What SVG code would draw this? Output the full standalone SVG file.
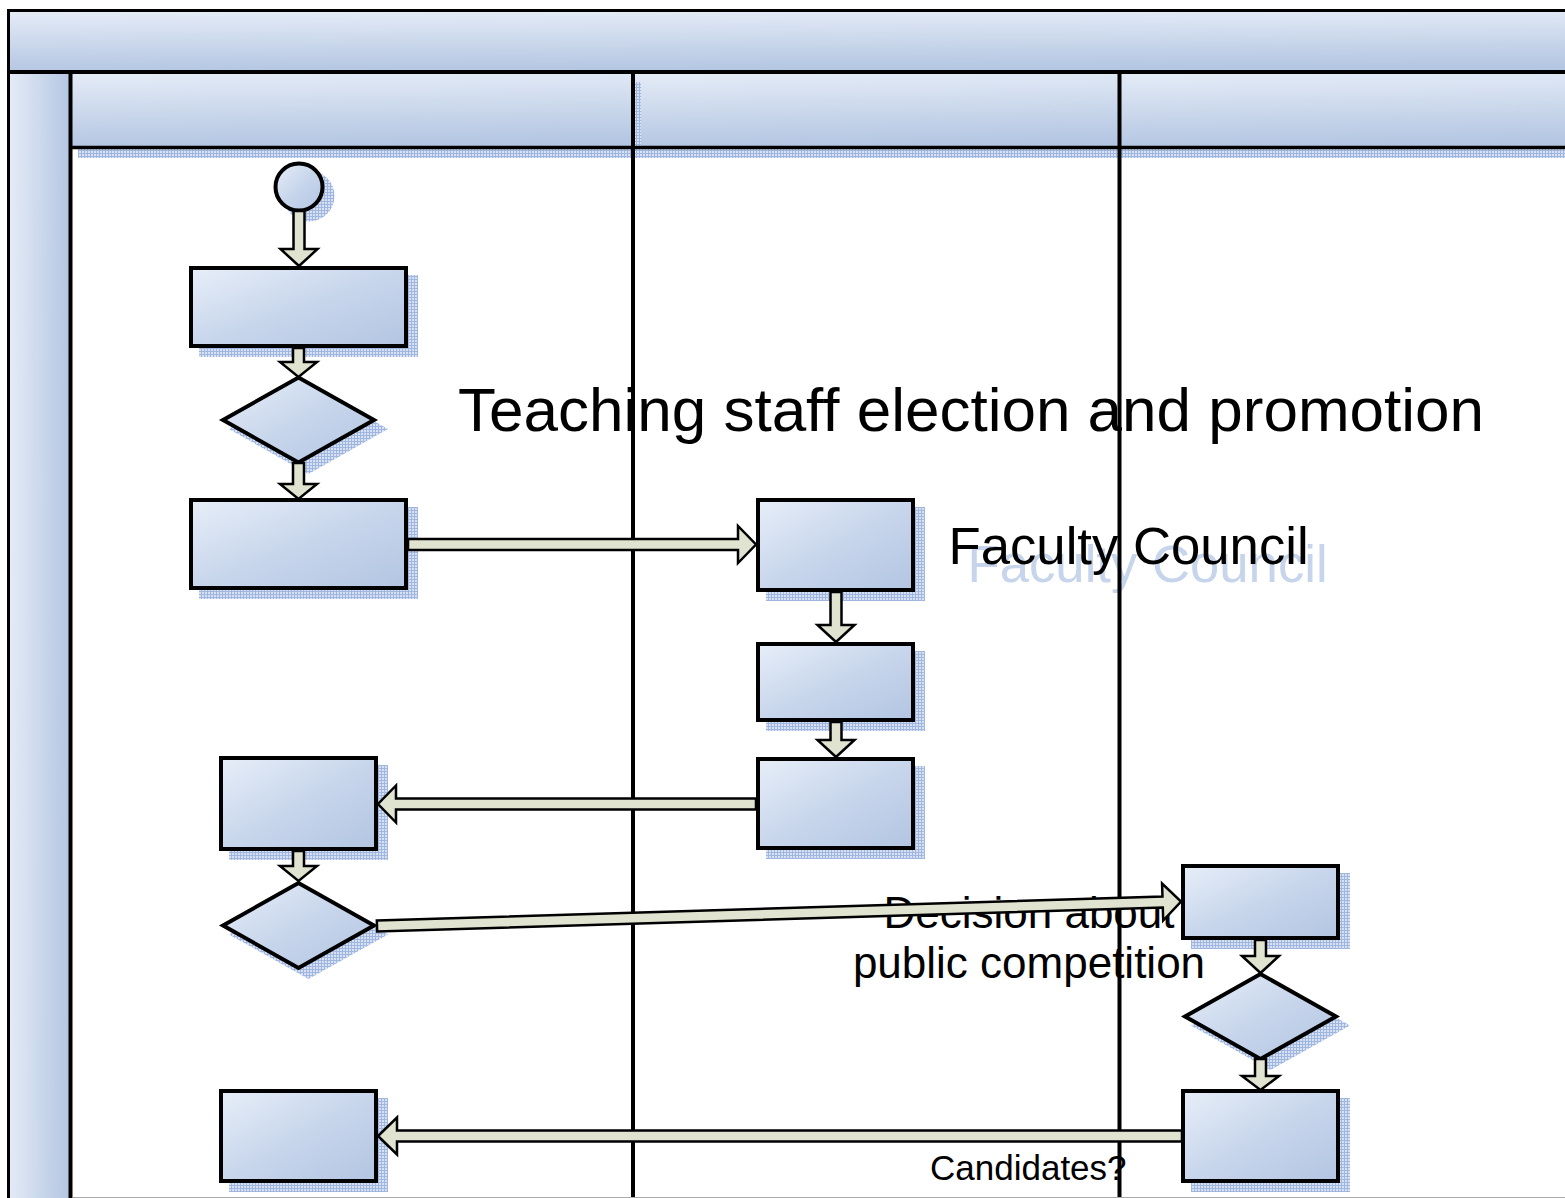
<svg xmlns="http://www.w3.org/2000/svg" width="1565" height="1198" viewBox="0 0 1565 1198">
<style>
.node{fill:url(#gNode);stroke:#000;stroke-width:4;stroke-linejoin:miter}
.sh{fill:url(#dots);stroke:none}
.arrow{fill:#dfe3cf;stroke:#000;stroke-width:2.5;stroke-linejoin:miter}
.line{stroke:#000;fill:none}
.t{font-family:"Liberation Sans",Arial,sans-serif;fill:#000}
</style>
<defs>
<linearGradient id="gNode" x1="0" y1="0" x2="1" y2="1">
<stop offset="0" stop-color="#e7eef8"/>
<stop offset="0.5" stop-color="#c8d6ec"/>
<stop offset="1" stop-color="#b3c5e2"/>
</linearGradient>
<linearGradient id="gHead" x1="0" y1="0" x2="0.1" y2="1">
<stop offset="0" stop-color="#e5ecf7"/>
<stop offset="1" stop-color="#b4c6e2"/>
</linearGradient>
<linearGradient id="gBand" x1="0" y1="0" x2="1" y2="0.03">
<stop offset="0" stop-color="#e5ecf7"/>
<stop offset="1" stop-color="#b4c6e2"/>
</linearGradient>
<pattern id="dots" width="3" height="3" patternUnits="userSpaceOnUse">
<rect width="3" height="3" fill="#d7e1f3"/>
<rect width="3" height="1" fill="#9fb6df"/>
<rect width="1" height="3" fill="#9fb6df"/>
</pattern>
</defs>
<rect x="0" y="0" width="1565" height="1198" fill="#fff"/>
<g id="pool">
<rect x="8.5" y="10.5" width="1570" height="61.5" fill="url(#gHead)" stroke="#000" stroke-width="3"/>
<rect x="8.5" y="72" width="62" height="1140" fill="url(#gBand)" stroke="#000" stroke-width="3"/>
<rect class="sh" x="641" y="82" width="940" height="76"/>
<rect x="1120" y="72" width="460" height="76" fill="url(#gHead)"/>
<rect x="633" y="72" width="487" height="76" fill="url(#gHead)"/>
<rect class="sh" x="78" y="82" width="563" height="76"/>
<rect x="70" y="72" width="563" height="76" fill="url(#gHead)"/>
</g>
<g id="labels">
<text class="t" x="458" y="431" font-size="62">Teaching staff election and promotion</text>
<text class="t" x="967.5" y="582" font-size="52.7" style="fill:#c6d4ec">Faculty Council</text>
<text class="t" x="948.5" y="564" font-size="52.7">Faculty Council</text>
<text class="t" x="1029" y="928" font-size="44" text-anchor="middle">Decision about</text>
<text class="t" x="1029" y="978" font-size="44" text-anchor="middle">public competition</text>
<text class="t" x="930" y="1180" font-size="35">Candidates?</text>
</g>
<g id="lanes">
<line class="line" x1="8.5" y1="72" x2="1565" y2="72" stroke-width="4"/>
<line class="line" x1="70" y1="147.5" x2="1565" y2="147.5" stroke-width="3.7"/>
<line class="line" x1="70.5" y1="72" x2="70.5" y2="1198" stroke-width="4"/>
<line class="line" x1="633" y1="72" x2="633" y2="1198" stroke-width="4"/>
<line class="line" x1="1119.5" y1="72" x2="1119.5" y2="1198" stroke-width="4"/>
<line x1="72.5" y1="1197.5" x2="1565" y2="1197.5" stroke="#a8a8a8" stroke-width="1"/>
</g>
<g id="start">
<circle class="sh" cx="309" cy="196" r="25.5"/>
<circle class="node" cx="299" cy="187" r="23.5"/>
</g>
<g id="n1"><rect class="sh" x="199" y="275" width="219" height="82"/><rect class="node" x="191" y="268" width="215" height="78"/></g>
<g id="d1"><polygon class="sh" points="229,429 308.5,384 388,429 308.5,474"/><polygon class="node" points="223,420 298.5,377.5 374,420 298.5,462.5"/></g>
<g id="n2"><rect class="sh" x="199" y="507" width="219" height="92"/><rect class="node" x="191" y="500" width="215" height="88"/></g>
<g id="n3"><rect class="sh" x="766" y="507" width="159" height="94"/><rect class="node" x="758" y="500" width="155" height="90"/></g>
<g id="n4"><rect class="sh" x="766" y="651" width="159" height="80"/><rect class="node" x="758" y="644" width="155" height="76"/></g>
<g id="n5"><rect class="sh" x="766" y="766" width="159" height="93"/><rect class="node" x="758" y="759" width="155" height="89"/></g>
<g id="n6"><rect class="sh" x="229" y="765" width="159" height="95"/><rect class="node" x="221" y="758" width="155" height="91"/></g>
<g id="d2"><polygon class="sh" points="229,934.5 308.5,889 388,934.5 308.5,979"/><polygon class="node" points="223,925.5 298.5,883 374,925.5 298.5,968"/></g>
<g id="n7"><rect class="sh" x="1191" y="873" width="159" height="76"/><rect class="node" x="1183" y="866" width="155" height="72"/></g>
<g id="d3"><polygon class="sh" points="1191,1025.5 1270.5,980 1350,1025.5 1270.5,1070"/><polygon class="node" points="1185,1016.5 1260.5,974 1336,1016.5 1260.5,1059"/></g>
<g id="n8"><rect class="sh" x="1191" y="1098" width="159" height="94"/><rect class="node" x="1183" y="1091" width="155" height="90"/></g>
<g id="n9"><rect class="sh" x="229" y="1098" width="159" height="94"/><rect class="node" x="221" y="1091" width="155" height="90"/></g>
<g id="connectors">
<polygon class="arrow" points="293.5,211 304.5,211 304.5,249 317.5,249 299,266 280.5,249 293.5,249"/>
<polygon class="arrow" points="293,348 304,348 304,362 317,362 298.5,377 280,362 293,362"/>
<polygon class="arrow" points="293,463 304,463 304,484 317,484 298.5,499 280,484 293,484"/>
<polygon class="arrow" points="408,539 738,539 738,526 756,544.5 738,563 738,550 408,550"/>
<polygon class="arrow" points="830.5,592 841.5,592 841.5,625 854.5,625 836,642 817.5,625 830.5,625"/>
<polygon class="arrow" points="830.5,722 841.5,722 841.5,740 854.5,740 836,757 817.5,740 830.5,740"/>
<polygon class="arrow" points="756,798.5 396,798.5 396,785.5 378,804 396,822.5 396,809.5 756,809.5"/>
<polygon class="arrow" points="293,851 304,851 304,866 317,866 298.5,881 280,866 293,866"/>
<polygon class="arrow" transform="translate(377,926) rotate(-1.745)" points="0,-5.5 786,-5.5 786,-18.5 804.4,0 786,18.5 786,5.5 0,5.5"/>
<polygon class="arrow" points="1255,940 1266,940 1266,956 1279,956 1260.5,973 1242,956 1255,956"/>
<polygon class="arrow" points="1255,1059 1266,1059 1266,1076 1279,1076 1260.5,1090 1242,1076 1255,1076"/>
<polygon class="arrow" points="1182,1130.5 397,1130.5 397,1117.5 378,1136 397,1154.5 397,1141.5 1182,1141.5"/>
</g>
</svg>
